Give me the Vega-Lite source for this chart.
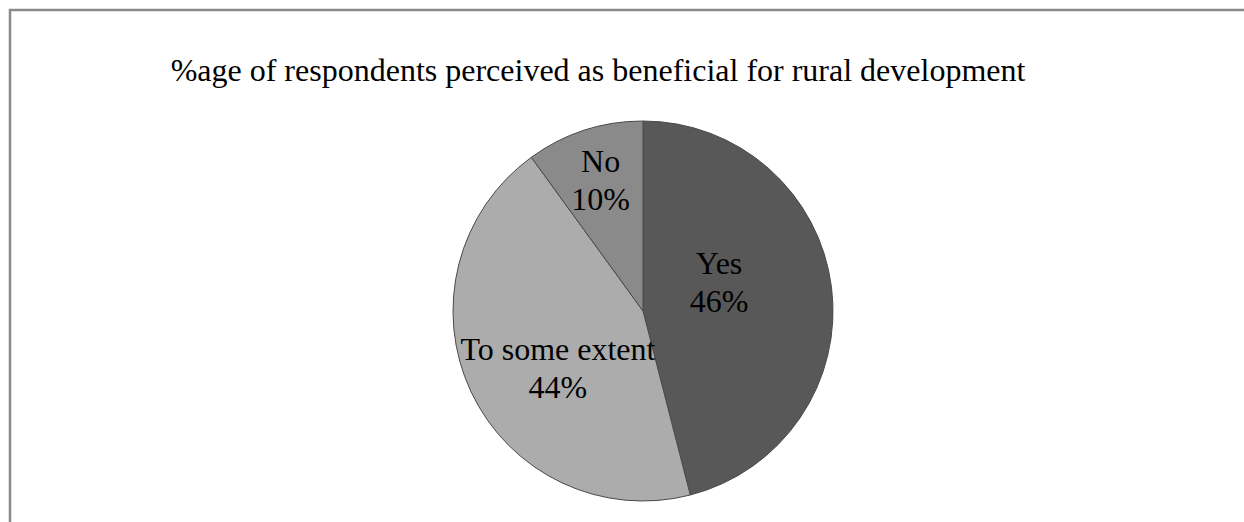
{
  "$schema": "https://vega.github.io/schema/vega-lite/v6.json",
  "autosize": "none",
  "width": 1266,
  "height": 602,
  "padding": {"left": 10, "top": 10, "right": -32, "bottom": -90},
  "background": "white",
  "view": {"stroke": "#8a8a8a", "strokeWidth": 2.5, "fill": "white"},
  "config": {
    "view": {"stroke": "#8a8a8a", "strokeWidth": 2.5},
    "font": "Liberation Serif"
  },
  "title": {
    "text": "%age of respondents perceived as beneficial for rural development",
    "font": "Liberation Serif",
    "fontSize": 32,
    "fontWeight": "normal",
    "color": "#000000",
    "anchor": "middle",
    "frame": "group",
    "baseline": "alphabetic",
    "offset": -103,
    "dx": -45
  },
  "data": {
    "values": [
      {"category": "Yes", "value": 0.46, "order": 1},
      {"category": "To some extent", "value": 0.44, "order": 2},
      {"category": "No", "value": 0.10, "order": 3}
    ]
  },
  "encoding": {
    "theta": {"field": "value", "type": "quantitative", "stack": true},
    "order": {"field": "order", "type": "quantitative"}
  },
  "layer": [
    {
      "mark": {"type": "arc", "radius": 190, "stroke": "#4a4a4a", "strokeWidth": 1},
      "encoding": {
        "color": {
          "field": "category",
          "type": "nominal",
          "scale": {"domain": ["Yes", "To some extent", "No"], "range": ["#585858", "#acacac", "#8a8a8a"]},
          "legend": null
        }
      }
    },
    {
      "mark": {"type": "text", "radius": 81, "thetaOffset": -0.227, "fontSize": 32, "font": "Liberation Serif", "color": "#000000", "dy": -19},
      "encoding": {"text": {"condition": {"test": "datum.category === 'Yes'", "field": "category", "type": "nominal"}, "value": ""}}
    },
    {
      "mark": {"type": "text", "radius": 81, "thetaOffset": -0.227, "fontSize": 32, "font": "Liberation Serif", "color": "#000000", "dy": 19},
      "encoding": {"text": {"condition": {"test": "datum.category === 'Yes'", "field": "value", "type": "quantitative", "format": ".0%"}, "value": ""}}
    },
    {
      "mark": {"type": "text", "radius": 103, "thetaOffset": -0.159, "fontSize": 32, "font": "Liberation Serif", "color": "#000000", "dy": -19},
      "encoding": {"text": {"condition": {"test": "datum.category === 'To some extent'", "field": "category", "type": "nominal"}, "value": ""}}
    },
    {
      "mark": {"type": "text", "radius": 103, "thetaOffset": -0.159, "fontSize": 32, "font": "Liberation Serif", "color": "#000000", "dy": 19},
      "encoding": {"text": {"condition": {"test": "datum.category === 'To some extent'", "field": "value", "type": "quantitative", "format": ".0%"}, "value": ""}}
    },
    {
      "mark": {"type": "text", "radius": 137, "fontSize": 32, "font": "Liberation Serif", "color": "#000000", "dy": -19},
      "encoding": {"text": {"condition": {"test": "datum.category === 'No'", "field": "category", "type": "nominal"}, "value": ""}}
    },
    {
      "mark": {"type": "text", "radius": 137, "fontSize": 32, "font": "Liberation Serif", "color": "#000000", "dy": 19},
      "encoding": {"text": {"condition": {"test": "datum.category === 'No'", "field": "value", "type": "quantitative", "format": ".0%"}, "value": ""}}
    }
  ]
}
